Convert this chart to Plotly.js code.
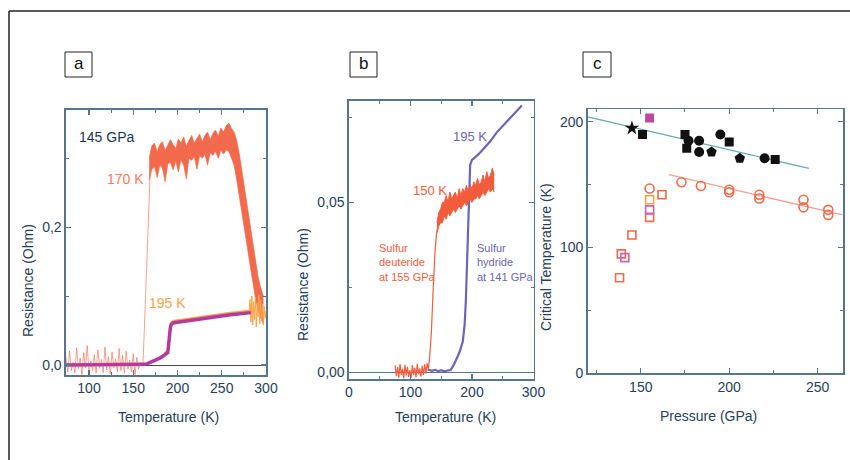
<!DOCTYPE html>
<html><head><meta charset="utf-8">
<script src="https://cdn.plot.ly/plotly-3.0.1.min.js"></script>
<style>html,body{margin:0;padding:0;background:#fff}</style>
</head><body><div id="chart" style="width:850px;height:460px"></div>
<script>
// ---------- Panel a : 145 GPa ----------
const aRedLowT = [74,76,78,80,82,84,86,88,90,92,94,96,98,100,102,104,106,108,110,112,114,116,118,120,122,124,126,128,130,132,134,136,138,140,142,144,146,148,150,152,154,156,158,160,161,163,165,167,169];
const aRedLowR = [0.012,-0.010,0.020,-0.008,0.004,-0.012,0.025,-0.006,0.010,-0.014,0.018,-0.004,0.028,-0.010,0.006,-0.008,0.015,-0.012,0.022,-0.005,0.008,-0.011,0.026,-0.007,0.012,-0.013,0.019,-0.004,0.009,-0.010,0.024,-0.008,0.014,-0.012,0.020,-0.006,0.007,-0.010,0.016,-0.014,0.011,-0.006,0.004,-0.002,0.000,0.070,0.140,0.210,0.275];
const aBandT  = [168,171,174,177,180,183,186,189,192,195,198,201,204,207,210,213,216,219,222,225,228,231,234,237,240,243,246,249,252,255,258,261,264,267,270,273,276,279,282,285,288,291,294,297];
const aBandHi = [0.300,0.318,0.322,0.309,0.320,0.324,0.311,0.318,0.327,0.320,0.314,0.328,0.322,0.331,0.317,0.326,0.333,0.322,0.329,0.335,0.324,0.333,0.338,0.327,0.336,0.341,0.332,0.344,0.338,0.347,0.351,0.343,0.338,0.325,0.305,0.280,0.255,0.228,0.200,0.175,0.150,0.128,0.112,0.100];
const aBandLo = [0.268,0.284,0.288,0.272,0.290,0.286,0.266,0.292,0.294,0.283,0.296,0.280,0.298,0.290,0.270,0.300,0.297,0.302,0.284,0.304,0.300,0.306,0.290,0.308,0.304,0.310,0.300,0.312,0.306,0.312,0.310,0.300,0.290,0.268,0.245,0.220,0.195,0.170,0.145,0.120,0.098,0.080,0.068,0.060];
const aPurT = [74,160,163,166,170,175,180,185,189,190,191,192,193,195,200,220,240,260,283];
const aPurR = [0,0,0.001,0.002,0.004,0.007,0.010,0.014,0.018,0.030,0.045,0.055,0.059,0.061,0.062,0.066,0.069,0.073,0.076];
const aOrT = [281,282,283,284,285,286,287,288,289,290,291,292,293,294,295,296,297,298,299,300];
const aOrR = [0.080,0.095,0.062,0.100,0.058,0.092,0.066,0.098,0.055,0.090,0.070,0.102,0.060,0.094,0.064,0.088,0.058,0.085,0.068,0.078];

// ---------- Panel b : sulfur deuteride / hydride ----------
const bRedLowT = [75,77,79,81,83,85,87,89,91,93,95,97,99,101,103,105,107,109,111,113,115,117,119,121,123,125,127,129,131,134,137,140,143];
const bRedLowR = [0.0020,-0.0012,0.0015,-0.0016,0.0024,-0.0008,0.0010,-0.0018,0.0022,-0.0010,0.0016,-0.0014,0.0006,-0.0017,0.0021,-0.0009,0.0013,-0.0015,0.0025,-0.0006,0.0011,-0.0013,0.0019,-0.0008,0.0023,-0.0004,0.0026,0.0010,0.004,0.012,0.025,0.036,0.042];
const bBandT  = [143,146,149,152,155,158,161,164,167,170,173,176,179,182,185,188,191,194,197,200,203,206,209,212,215,218,221,224,227,230,233,236];
const bBandHi = [0.044,0.047,0.048,0.050,0.050,0.052,0.050,0.053,0.051,0.052,0.053,0.051,0.054,0.052,0.054,0.053,0.055,0.053,0.055,0.054,0.056,0.055,0.057,0.055,0.056,0.058,0.056,0.059,0.057,0.058,0.060,0.058];
const bBandLo = [0.041,0.043,0.044,0.044,0.046,0.045,0.047,0.046,0.047,0.048,0.047,0.048,0.049,0.048,0.049,0.050,0.049,0.050,0.051,0.050,0.051,0.051,0.052,0.051,0.052,0.053,0.052,0.053,0.054,0.053,0.054,0.053];
const bPurT = [128,135,140,145,150,155,160,165,170,175,180,185,188,190,192,194,196,197,200,210,220,230,240,250,260,270,281];
const bPurR = [0.0008,0.0004,0.0007,0.0003,0.0006,0.0002,0.0005,0.0006,0.002,0.004,0.006,0.009,0.014,0.021,0.031,0.041,0.054,0.061,0.0625,0.064,0.066,0.068,0.0705,0.0725,0.0745,0.0765,0.0785];

// ---------- Panel c : Tc vs pressure ----------
const cFitHP = [120,245], cFitHT = [204,163];
const cFitDP = [166,264], cFitDT = [158,126];
const cStarP = [145], cStarT = [195];
const cSqP = [151,175,176,200,226], cSqT = [190,190,179,184,170];
const cCircP = [177,183,183,195,220], cCircT = [185,185,176,190,171];
const cPentP = [190,206], cPentT = [176,171];
const cMagP = [155], cMagT = [203];
const cOpenCircP = [155,173,184,200,200,217,217,242,242,256,256];
const cOpenCircT = [147,152,149,146,144,142,139,138,132,130,126];
const cOpenSqP = [162,155,145,139,138], cOpenSqT = [142,124,110,95,76];
const cOrSqP = [155], cOrSqT = [138];
const cPinkSqP = [155,141], cPinkSqT = [130,92];

const W = 850, H = 460;
const px = v => v / W, py = v => 1 - v / H;
const FONT = 'Liberation Sans, Arial, sans-serif';
const TXT = '#26405c';
const AX = '#56768e';
const RED = '#f26a4b', REDB = '#f25c3c', PUR = '#b53a9e', ORA = '#f7a24a', BLU = '#6c64b9';

const orIdx = aPurT.map((t, i) => i).filter(i => aPurT[i] >= 185);

const traces = [
  // panel a
  {x: aRedLowT, y: aRedLowR, xaxis:'x', yaxis:'y', mode:'lines', line:{color:'#f36a4e', width:0.9}, opacity:0.7},
  {x: aBandT, y: aBandLo, xaxis:'x', yaxis:'y', mode:'lines', line:{color:RED, width:0.7}},
  {x: aBandT, y: aBandHi, xaxis:'x', yaxis:'y', mode:'lines', line:{color:RED, width:0.7}, fill:'tonexty', fillcolor:RED},
  {x: aOrT, y: aOrR, xaxis:'x', yaxis:'y', mode:'lines', line:{color:ORA, width:1}},
  {x: orIdx.map(i => aPurT[i]), y: orIdx.map(i => aPurR[i] + 0.003), xaxis:'x', yaxis:'y', mode:'lines', line:{color:ORA, width:2}},
  {x: aPurT, y: aPurR, xaxis:'x', yaxis:'y', mode:'lines', line:{color:PUR, width:3.5}},
  // panel b
  {x: bPurT, y: bPurR, xaxis:'x2', yaxis:'y2', mode:'lines', line:{color:BLU, width:2.2}},
  {x: bRedLowT, y: bRedLowR, xaxis:'x2', yaxis:'y2', mode:'lines', line:{color:REDB, width:1.2}},
  {x: bBandT, y: bBandLo, xaxis:'x2', yaxis:'y2', mode:'lines', line:{color:REDB, width:1}},
  {x: bBandT, y: bBandHi, xaxis:'x2', yaxis:'y2', mode:'lines', line:{color:REDB, width:1}, fill:'tonexty', fillcolor:REDB},
  // panel c
  {x: cFitHP, y: cFitHT, xaxis:'x3', yaxis:'y3', mode:'lines', line:{color:'#6aaab2', width:1.3}},
  {x: cFitDP, y: cFitDT, xaxis:'x3', yaxis:'y3', mode:'lines', line:{color:'#f4a090', width:1.3}},
  {x: cStarP, y: cStarT, xaxis:'x3', yaxis:'y3', mode:'markers', marker:{symbol:'star', size:11, color:'#111'}},
  {x: cSqP, y: cSqT, xaxis:'x3', yaxis:'y3', mode:'markers', marker:{symbol:'square', size:9, color:'#111'}},
  {x: cCircP, y: cCircT, xaxis:'x3', yaxis:'y3', mode:'markers', marker:{symbol:'circle', size:10, color:'#111'}},
  {x: cPentP, y: cPentT, xaxis:'x3', yaxis:'y3', mode:'markers', marker:{symbol:'pentagon', size:11, color:'#111'}},
  {x: cMagP, y: cMagT, xaxis:'x3', yaxis:'y3', mode:'markers', marker:{symbol:'square', size:9, color:'#c0479c'}},
  {x: cOpenCircP, y: cOpenCircT, xaxis:'x3', yaxis:'y3', mode:'markers', marker:{symbol:'circle-open', size:9, color:RED, line:{width:1.6}}},
  {x: cOpenSqP, y: cOpenSqT, xaxis:'x3', yaxis:'y3', mode:'markers', marker:{symbol:'square-open', size:8, color:RED, line:{width:1.6}}},
  {x: cOrSqP, y: cOrSqT, xaxis:'x3', yaxis:'y3', mode:'markers', marker:{symbol:'square-open', size:8, color:ORA, line:{width:1.6}}},
  {x: cPinkSqP, y: cPinkSqT, xaxis:'x3', yaxis:'y3', mode:'markers', marker:{symbol:'square-open', size:8, color:'#c964b4', line:{width:1.6}}}
];

function axis(extra) {
  return Object.assign({
    showline:true, linecolor:AX, linewidth:1.6, mirror:'ticks',
    ticks:'inside', ticklen:5, tickcolor:AX, tickwidth:1.2,
    showgrid:false, zeroline:false,
    tickfont:{family:FONT, size:14, color:TXT}, fixedrange:true
  }, extra);
}
const minor = (o) => Object.assign({ticks:'inside', ticklen:3, tickcolor:AX, tickwidth:1, showgrid:false}, o);

const layout = {
  width:W, height:H, autosize:false, showlegend:false,
  margin:{l:0, r:0, t:0, b:0}, paper_bgcolor:'#fff', plot_bgcolor:'#fff',
  separators:',.',
  font:{family:FONT, color:TXT},
  xaxis: axis({domain:[px(66), px(266)], range:[74,300], anchor:'y', tick0:0, dtick:50, minor:minor({dtick:25})}),
  yaxis: axis({domain:[py(375), py(110)], range:[-0.0145,0.37], anchor:'x', tickvals:[0,0.2], tickformat:'.1f',
               minor:minor({tickvals:[0.1,0.3]}), zeroline:true, zerolinecolor:'#4a4a4a', zerolinewidth:1}),
  xaxis2: axis({domain:[px(349), px(533.5)], range:[0,300], anchor:'y2', tick0:0, dtick:100, minor:minor({dtick:50})}),
  yaxis2: axis({domain:[py(379), py(101)], range:[-0.002,0.0798], anchor:'x2', tickvals:[0,0.05], tickformat:'.2f',
               minor:minor({tickvals:[0.025,0.075]}), zeroline:true, zerolinecolor:AX, zerolinewidth:1.2}),
  xaxis3: axis({domain:[px(587.7), px(843.3)], range:[120,264.5], anchor:'y3', tick0:0, dtick:50, minor:minor({dtick:25})}),
  yaxis3: axis({domain:[py(373.3), py(109.3)], range:[0,210], anchor:'x3', tick0:0, dtick:100, minor:minor({dtick:50})}),
  shapes: [
    {type:'line', xref:'paper', yref:'paper', x0:px(9), x1:1, y0:py(11), y1:py(11), line:{color:'#222', width:1.5}},
    {type:'line', xref:'paper', yref:'paper', x0:px(9), x1:px(9), y0:py(11), y1:0, line:{color:'#222', width:1.5}},
    {type:'rect', xref:'paper', yref:'paper', x0:px(65), x1:px(92), y0:py(77), y1:py(52), line:{color:'#222', width:1}},
    {type:'rect', xref:'paper', yref:'paper', x0:px(350), x1:px(377), y0:py(77), y1:py(52), line:{color:'#222', width:1}},
    {type:'rect', xref:'paper', yref:'paper', x0:px(583), x1:px(611), y0:py(77), y1:py(52), line:{color:'#222', width:1}}
  ],
  annotations: []
};

function note(text, x, y, opt) {
  layout.annotations.push(Object.assign({
    text, xref:'paper', yref:'paper', x:px(x), y:py(y), showarrow:false,
    xanchor:'center', yanchor:'middle', font:{family:FONT, size:14, color:TXT}
  }, opt || {}));
}
// panel letters
note('a', 78.5, 64, {font:{family:FONT, size:17, color:'#111'}});
note('b', 363.5, 64, {font:{family:FONT, size:17, color:'#111'}});
note('c', 597, 64, {font:{family:FONT, size:17, color:'#111'}});
// axis titles
note('Resistance (Ohm)', 28, 281, {textangle:-90});
note('Temperature (K)', 168, 417);
note('Resistance (Ohm)', 303, 285, {textangle:-90});
note('Temperature (K)', 445, 417);
note('Critical Temperature (K)', 546, 257, {textangle:-90});
note('Pressure (GPa)', 708, 416);
// in-plot labels
note('145 GPa', 106, 137, {font:{family:FONT, size:14, color:'#1e3550'}});
note('170 K', 126, 179, {font:{family:FONT, size:14, color:'#f47c63'}});
note('195 K', 167.5, 303, {font:{family:FONT, size:14, color:ORA}});
note('195 K', 470, 137, {font:{family:FONT, size:13, color:BLU}});
note('150 K', 430, 191, {font:{family:FONT, size:13, color:REDB}});
note('Sulfur<br>deuteride<br>at 155 GPa', 377, 262, {xanchor:'left', align:'left', font:{family:FONT, size:11, color:REDB}});
note('Sulfur<br>hydride<br>at 141 GPa', 475, 262, {xanchor:'left', align:'left', font:{family:FONT, size:11, color:BLU}});

Plotly.newPlot('chart', traces, layout, {staticPlot:true, displayModeBar:false});
</script></body></html>
